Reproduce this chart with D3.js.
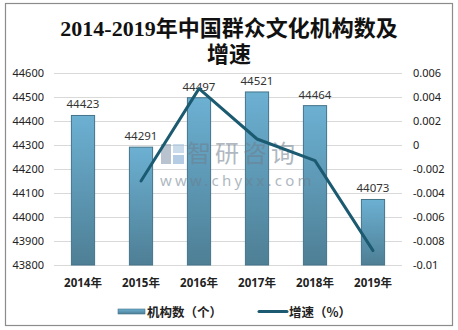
<!DOCTYPE html>
<html>
<head>
<meta charset="utf-8">
<script src="https://cdn.jsdelivr.net/npm/d3@7"></script>
<style>
  html, body { margin: 0; padding: 0; background: #fff; }
  svg { display: block; }
</style>
</head>
<body>
<svg id="chart" width="458" height="330"></svg>
<script>
// Data
const years = ["2014年", "2015年", "2016年", "2017年", "2018年", "2019年"];
const institutions = [44423, 44291, 44497, 44521, 44464, 44073];
const growthYears = ["2015年", "2016年", "2017年", "2018年", "2019年"];
const growth = [-0.0030, 0.0047, 0.0005, -0.0013, -0.0088];
const leftTicks = [43800, 43900, 44000, 44100, 44200, 44300, 44400, 44500, 44600];
const rightTicks = [-0.01, -0.008, -0.006, -0.004, -0.002, 0, 0.002, 0.004, 0.006];
const titleLines = ["2014-2019年中国群众文化机构数及", "增速"];
const legendLabels = ["机构数（个）", "增速（%）"];

const svg = d3.select("#chart");
const plot = { left: 54, right: 402, top: 73, bottom: 265 };
const sans = "'Noto Sans', 'Noto Sans CJK SC', sans-serif";

// Outer frame
svg.append("rect")
  .attr("x", 5.5).attr("y", 3.5).attr("width", 447).attr("height", 322)
  .attr("fill", "#fff").attr("stroke", "#8c8c8c").attr("stroke-width", 1.2);

// Title
svg.append("g").selectAll("text").data(titleLines).join("text")
  .attr("x", 229).attr("y", (d, i) => 36 + i * 26)
  .attr("text-anchor", "middle")
  .attr("font-family", "'Liberation Serif', 'Noto Sans CJK SC', serif")
  .attr("font-size", 22).attr("font-weight", "bold").attr("fill", "#111")
  .text(d => d);

// Scales
const x = d3.scaleBand().domain(years).range([plot.left, plot.right]).paddingInner(0.6).paddingOuter(0.3);
const xc = d => x(d) + x.bandwidth() / 2;
const yL = d3.scaleLinear().domain([43800, 44600]).range([plot.bottom, plot.top]);
const yR = d3.scaleLinear().domain([-0.01, 0.006]).range([plot.bottom, plot.top]);

// Gridlines
svg.append("g").selectAll("line").data(leftTicks).join("line")
  .attr("x1", plot.left).attr("x2", plot.right)
  .attr("y1", d => Math.round(yL(d)) + 0.5).attr("y2", d => Math.round(yL(d)) + 0.5)
  .attr("stroke", "#d9d9d9").attr("stroke-width", 1);

// Left axis
const axL = svg.append("g").attr("transform", `translate(${plot.left},0)`)
  .call(d3.axisLeft(yL).tickValues(leftTicks).tickSize(0).tickPadding(10).tickFormat(d3.format("d")));
axL.select(".domain").remove();
axL.selectAll("text").attr("font-family", sans).attr("font-size", 11).attr("fill", "#222");

// Right axis
const axR = svg.append("g").attr("transform", `translate(${plot.right},0)`)
  .call(d3.axisRight(yR).tickValues(rightTicks).tickSize(0).tickPadding(11).tickFormat(d => d === 0 ? "0" : String(+d.toFixed(3))));
axR.select(".domain").remove();
axR.selectAll("text").attr("font-family", sans).attr("font-size", 11).attr("fill", "#222");

// Bottom axis labels
const axB = svg.append("g").attr("transform", `translate(0,${plot.bottom})`)
  .call(d3.axisBottom(x).tickSize(0).tickPadding(14));
axB.select(".domain").remove();
axB.selectAll("text").attr("font-family", sans).attr("font-size", 11.5).attr("font-weight", "bold").attr("fill", "#222");

// Bar gradient
const defs = svg.append("defs");
const grad = defs.append("linearGradient").attr("id", "barFill").attr("x1", 0).attr("y1", 0).attr("x2", 0).attr("y2", 1);
grad.append("stop").attr("offset", "0%").attr("stop-color", "#6cb0d2");
grad.append("stop").attr("offset", "100%").attr("stop-color", "#4e7f95");
const lg = defs.append("linearGradient").attr("id", "legFill").attr("x1", 0).attr("y1", 0).attr("x2", 0).attr("y2", 1);
lg.append("stop").attr("offset", "0%").attr("stop-color", "#6cb0d2");
lg.append("stop").attr("offset", "100%").attr("stop-color", "#4e7f95");

// Bars
svg.append("g").selectAll("rect").data(institutions).join("rect")
  .attr("x", (d, i) => x(years[i]))
  .attr("y", d => yL(d))
  .attr("width", x.bandwidth())
  .attr("height", d => plot.bottom - yL(d))
  .attr("fill", "url(#barFill)")
  .attr("stroke", "#44748a").attr("stroke-width", 1);

// Bar value labels
svg.append("g").selectAll("text").data(institutions).join("text")
  .attr("x", (d, i) => xc(years[i]))
  .attr("y", d => yL(d) - 7)
  .attr("text-anchor", "middle")
  .attr("font-family", sans).attr("font-size", 11.5).attr("fill", "#333")
  .text(d => d);

// Watermark
const wm = svg.append("g").attr("opacity", 0.55);
wm.append("rect").attr("x", 161).attr("y", 144).attr("width", 10).attr("height", 20).attr("fill", "#7f93a8");
wm.append("rect").attr("x", 173).attr("y", 144).attr("width", 11).attr("height", 9).attr("fill", "#9fc0dc");
wm.append("rect").attr("x", 173).attr("y", 155).attr("width", 11).attr("height", 9).attr("fill", "#7aa6cf");
wm.append("text").attr("x", 187).attr("y", 162)
  .attr("font-family", "'Noto Sans CJK SC', sans-serif").attr("font-size", 24).attr("fill", "#6e7f8e")
  .attr("letter-spacing", 4).text("智研咨询");
wm.append("text").attr("x", 160).attr("y", 186)
  .attr("font-family", sans).attr("font-size", 15).attr("fill", "#6e7f8e")
  .attr("letter-spacing", 3.2).text("www.chyxx.com");

// Growth line
const line = d3.line().x(d => xc(d[0])).y(d => yR(d[1]));
svg.append("path")
  .datum(growthYears.map((y, i) => [y, growth[i]]))
  .attr("d", line)
  .attr("fill", "none").attr("stroke", "#1b5a70").attr("stroke-width", 3)
  .attr("stroke-linejoin", "round").attr("stroke-linecap", "round");

// Legend
const leg = svg.append("g");
leg.append("rect").attr("x", 118).attr("y", 309).attr("width", 27).attr("height", 5)
  .attr("fill", "url(#legFill)").attr("stroke", "#44748a").attr("stroke-width", 0.6);
leg.append("text").attr("x", 147).attr("y", 316.5)
  .attr("font-family", "'Noto Sans CJK SC', sans-serif").attr("font-size", 12.5).attr("font-weight", "bold").attr("fill", "#222")
  .text(legendLabels[0]);
leg.append("line").attr("x1", 259).attr("x2", 287).attr("y1", 311.5).attr("y2", 311.5)
  .attr("stroke", "#1b5a70").attr("stroke-width", 3).attr("stroke-linecap", "round");
leg.append("text").attr("x", 289).attr("y", 316.5)
  .attr("font-family", "'Noto Sans CJK SC', sans-serif").attr("font-size", 12.5).attr("font-weight", "bold").attr("fill", "#222")
  .text(legendLabels[1]);
</script>
</body>
</html>
